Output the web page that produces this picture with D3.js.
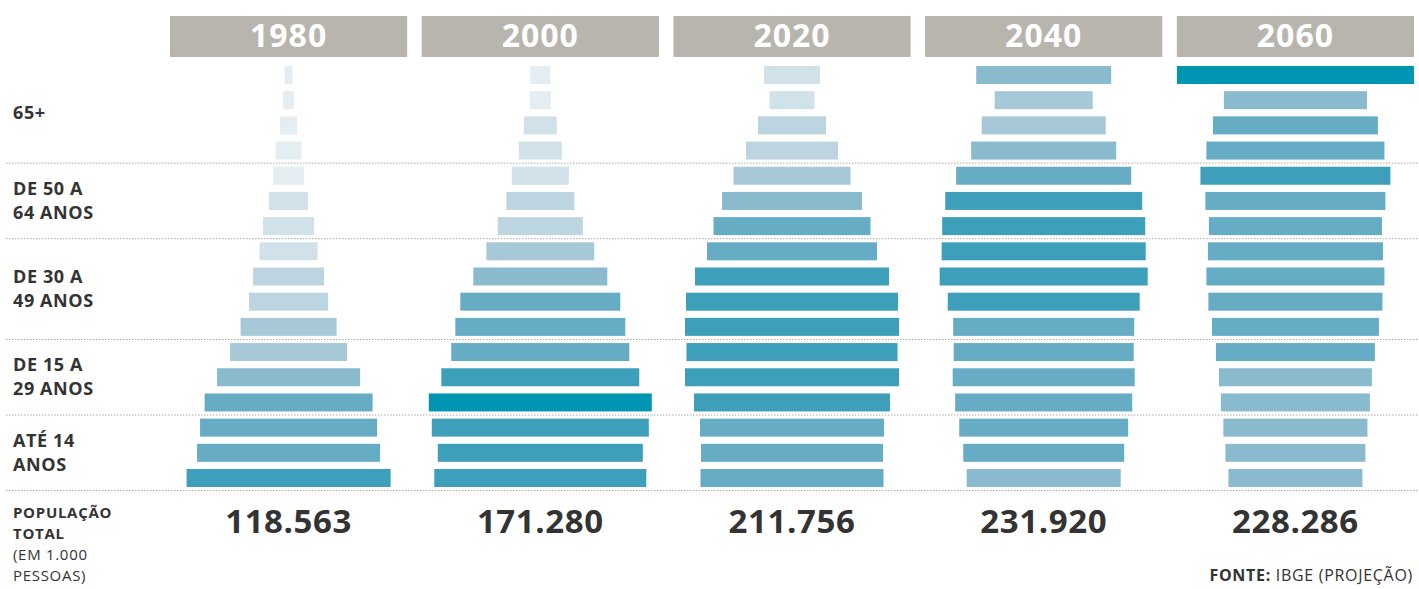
<!DOCTYPE html>
<html>
<head>
<meta charset="utf-8">
<script src="https://cdn.jsdelivr.net/npm/d3@7/dist/d3.min.js"></script>
<style>
  html, body { margin: 0; padding: 0; background: #fff; }
  svg { display: block; font-family: "Open Sans", "Noto Sans", sans-serif; }
</style>
</head>
<body>
<svg id="chart" width="1419" height="589"></svg>
<script>
// ---- DATA (population in millions, by 5-year age group, oldest first) ----
const years = ["1980", "2000", "2020", "2040", "2060"];
const ageGroups = ["80+", "75-79", "70-74", "65-69", "60-64", "55-59", "50-54",
  "45-49", "40-44", "35-39", "30-34", "25-29", "20-24", "15-19", "10-14", "5-9", "0-4"];
const pop1980 = [0.64, 0.88, 1.37, 2.09, 2.49, 3.13, 4.10, 4.66, 5.70, 6.35, 7.71, 9.40, 11.49, 13.49, 14.22, 14.70, 16.39];
const pop2000 = [1.61, 1.69, 2.65, 3.45, 4.58, 5.46, 6.83, 8.67, 10.76, 12.85, 13.65, 14.30, 15.90, 17.91, 17.43, 16.47, 17.03];
const pop2020 = [4.50, 3.61, 5.46, 7.39, 9.40, 11.24, 12.61, 13.65, 15.58, 17.03, 17.19, 16.95, 17.19, 15.74, 14.78, 14.62, 14.70];
const pop2040 = [10.84, 7.87, 9.96, 11.65, 14.06, 15.82, 16.31, 16.39, 16.71, 15.42, 14.54, 14.46, 14.62, 14.22, 13.57, 12.93, 12.37];
const pop2060 = [19.04, 11.49, 13.25, 14.30, 15.26, 14.46, 13.90, 14.06, 14.30, 13.98, 13.41, 12.77, 12.29, 11.97, 11.57, 11.24, 10.76];
const totals = ["118.563", "171.280", "211.756", "231.920", "228.286"];
const bandLabels = [
  { first: "80+", last: "65-69", lines: ["65+"] },
  { first: "60-64", last: "50-54", lines: ["DE 50 A", "64 ANOS"] },
  { first: "45-49", last: "30-34", lines: ["DE 30 A", "49 ANOS"] },
  { first: "25-29", last: "15-19", lines: ["DE 15 A", "29 ANOS"] },
  { first: "10-14", last: "0-4", lines: ["ATÉ 14", "ANOS"] }
];
const totalLabelLines = [
  { text: "POPULAÇÃO", bold: true },
  { text: "TOTAL", bold: true },
  { text: "(EM 1.000", bold: false },
  { text: "PESSOAS)", bold: false }
];
const colorBreaks = [2.5, 5, 7.5, 10, 12.5, 15, 17.5];
const colorSteps = ["#e4edf1", "#d1e1e9", "#bdd5e0", "#a7c9d7", "#89bacd", "#66acc4", "#3e9fba", "#0095b0"];

const series = { "1980": pop1980, "2000": pop2000, "2020": pop2020, "2040": pop2040, "2060": pop2060 };

// ---- SCALES ----
const svg = d3.select("#chart");
const W = 1419;

const col = d3.scaleBand().domain(years).range([170, 1414]).paddingInner(0.0577).paddingOuter(0);
const y = d3.scaleBand().domain(ageGroups).range([58.8, 494.2]).paddingInner(0.2855).paddingOuter(0.2855);
const w = d3.scaleLinear().domain([0, 20]).range([0, 249]);
const color = d3.scaleThreshold().domain(colorBreaks).range(colorSteps);

const step = y.step();
const gap = step * y.paddingInner();

// ---- HEADERS ----
const head = svg.append("g");
head.selectAll("rect").data(years).join("rect")
  .attr("x", d => col(d)).attr("y", 16)
  .attr("width", col.bandwidth()).attr("height", 41)
  .attr("fill", "#b8b5ae");
head.selectAll("text").data(years).join("text")
  .attr("x", d => col(d) + col.bandwidth() / 2).attr("y", 47)
  .attr("text-anchor", "middle")
  .attr("fill", "#fff").attr("font-weight", 700).attr("font-size", 32)
  .attr("letter-spacing", 1)
  .text(d => d);

// ---- SEPARATORS ----
const sepY = bandLabels.map(b => y(b.last) + y.bandwidth() + gap / 2);
svg.append("g").selectAll("line").data(sepY).join("line")
  .attr("x1", 6).attr("x2", W).attr("y1", d => d).attr("y2", d => d)
  .attr("stroke", "#a8a8a8").attr("stroke-width", 1).attr("stroke-dasharray", "1.5,1.5");

// ---- BARS ----
years.forEach(yr => {
  const cx = col(yr) + col.bandwidth() / 2;
  svg.append("g").selectAll("rect")
    .data(ageGroups.map((a, i) => ({ age: a, v: series[yr][i] })))
    .join("rect")
    .attr("x", d => cx - w(d.v) / 2)
    .attr("y", d => y(d.age))
    .attr("width", d => w(d.v))
    .attr("height", y.bandwidth())
    .attr("fill", d => color(d.v));
});

// ---- LEFT LABELS ----
const lab = svg.append("g").attr("fill", "#333").attr("font-weight", 700).attr("font-size", 18)
  .attr("letter-spacing", 0.6);
bandLabels.forEach(b => {
  const top = y(b.first), bottom = y(b.last) + y.bandwidth();
  const mid = (top + bottom) / 2;
  const lh = 24;
  const n = b.lines.length;
  b.lines.forEach((t, i) => {
    lab.append("text")
      .attr("x", 13)
      .attr("y", mid + (i - (n - 1) / 2) * lh + 6)
      .text(t);
  });
});

// ---- TOTALS ----
svg.append("g").selectAll("text").data(years).join("text")
  .attr("x", d => col(d) + col.bandwidth() / 2).attr("y", 533)
  .attr("text-anchor", "middle")
  .attr("fill", "#333").attr("font-weight", 700).attr("font-size", 33)
  .attr("letter-spacing", 0.6)
  .text((d, i) => totals[i]);

svg.append("g").attr("fill", "#333").attr("font-size", 15).attr("letter-spacing", 0.7)
  .selectAll("text").data(totalLabelLines).join("text")
  .attr("x", 13).attr("y", (d, i) => 518 + i * 21)
  .attr("font-weight", d => d.bold ? 700 : 400)
  .text(d => d.text);

// ---- SOURCE ----
const src = svg.append("text").attr("x", 1413).attr("y", 581).attr("text-anchor", "end")
  .attr("fill", "#333").attr("font-size", 16).attr("letter-spacing", 0.7);
src.append("tspan").attr("font-weight", 700).text("FONTE:");
src.append("tspan").text(" IBGE (PROJEÇÃO)");
</script>
</body>
</html>
